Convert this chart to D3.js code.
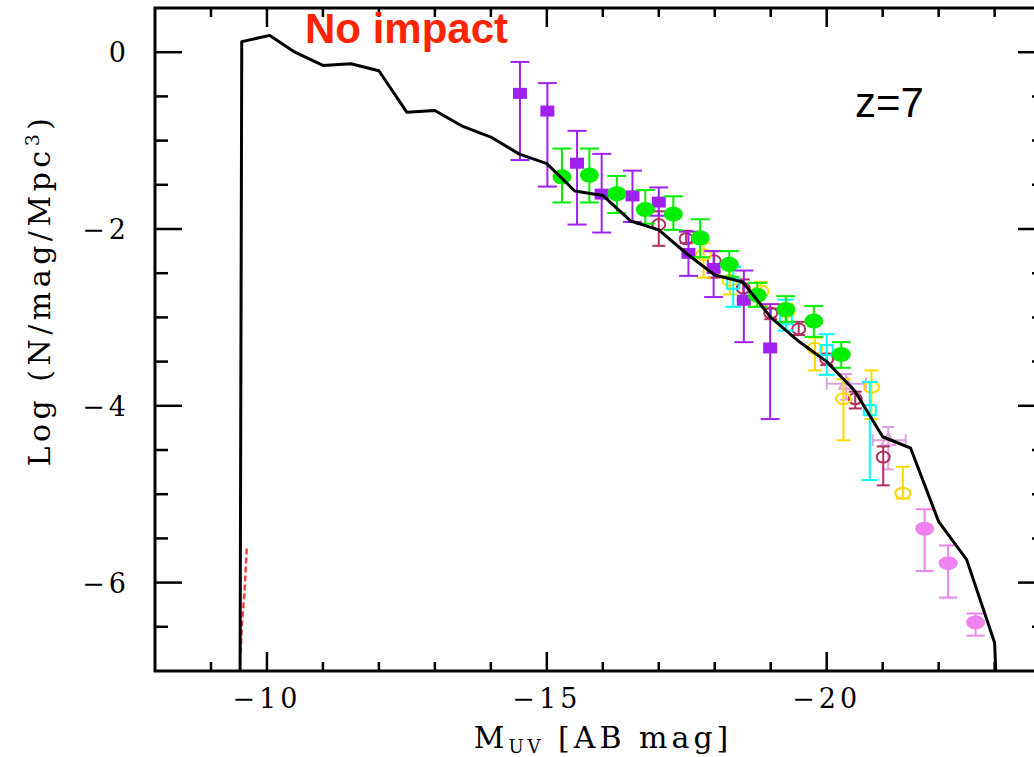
<!DOCTYPE html>
<html>
<head>
<meta charset="utf-8">
<script src="https://cdn.jsdelivr.net/npm/d3@7"></script>
<style>
  body { margin: 0; background: #fff; }
  .tick-label { font-family: "DejaVu Serif", serif; font-size: 27px; letter-spacing: 4px; }
</style>
</head>
<body>
<div id="chart"></div>
<script>
/**
 * CONSTANTS AND GLOBALS
 * */
const width = 1034,
  height = 757,
  frame = { left: 155, right: 1045, top: 8, bottom: 671 };

// model curve (black line)
const modelMag = [-9.52, -9.55, -10.05, -10.5, -11, -11.5, -12, -12.5, -13, -13.5, -14, -14.5, -15, -15.5, -16, -16.5, -17, -17.5, -18, -18.5, -19, -19.5, -20, -20.5, -21, -21.5, -22, -22.5, -23, -23.02];
const modelPhi = [-7, 0.12, 0.19, 0.0, -0.15, -0.13, -0.21, -0.68, -0.66, -0.84, -0.96, -1.15, -1.26, -1.57, -1.62, -1.91, -2.01, -2.28, -2.52, -2.6, -3.0, -3.27, -3.5, -3.83, -4.35, -4.48, -5.31, -5.74, -6.68, -7];

// "no impact" red scribble near the faint end
const noImpactMag = [-9.53, -9.55, -9.6, -9.64];
const noImpactPhi = [-6.8, -6.5, -6.1, -5.6];

// observations: magnitude, log phi, upper, lower
const purpleMag = [-14.52, -15.01, -15.54, -15.98, -16.53, -17.0, -17.53, -17.98, -18.52, -18.99];
const purplePhi = [-0.46, -0.66, -1.25, -1.60, -1.62, -1.69, -2.27, -2.44, -2.80, -3.34];
const purpleHi = [-0.11, -0.35, -0.89, -1.15, -1.34, -1.53, -2.03, -2.25, -2.47, -2.85];
const purpleLo = [-1.22, -1.52, -1.95, -2.04, -1.92, -1.85, -2.53, -2.77, -3.28, -4.15];

const greenMag = [-15.27, -15.76, -16.25, -16.76, -17.26, -17.74, -18.26, -18.76, -19.27, -19.77, -20.26];
const greenPhi = [-1.41, -1.39, -1.60, -1.78, -1.83, -2.10, -2.40, -2.75, -2.91, -3.04, -3.42];
const greenHi = [-1.09, -1.09, -1.40, -1.56, -1.63, -1.89, -2.25, -2.61, -2.76, -2.87, -3.28];
const greenLo = [-1.70, -1.70, -1.82, -1.94, -2.01, -2.32, -2.54, -2.88, -3.05, -3.22, -3.57];

const maroonMag = [-17.0, -17.49, -17.99, -18.51, -19.0, -19.5, -20.0, -20.51, -21.01];
const maroonPhi = [-1.95, -2.11, -2.36, -2.67, -2.95, -3.13, -3.47, -3.92, -4.58];
const maroonHi = [-1.80, -2.02, -2.25, -2.57, -2.90, -3.05, -3.41, -3.84, -4.46];
const maroonLo = [-2.19, -2.16, -2.55, -2.80, -3.02, -3.20, -3.54, -4.03, -4.90];

const goldMag = [-17.8, -18.27, -18.83, -19.29, -19.79, -20.3, -20.8, -21.36];
const goldPhi = [-2.29, -2.58, -2.70, -2.94, -3.35, -3.92, -3.79, -4.99];
const goldHi = [-2.16, -2.44, -2.60, -2.85, -3.23, -3.70, -3.60, -4.69];
const goldLo = [-2.55, -2.74, -2.87, -3.05, -3.60, -4.39, -4.15, -5.05];

const cyanMag = [-18.33, -19.27, -20.0, -20.77];
const cyanPhi = [-2.62, -3.02, -3.37, -4.05];
const cyanHi = [-2.43, -2.80, -3.19, -3.73];
const cyanLo = [-2.88, -3.15, -3.65, -4.84];

const violetMag = [-21.75, -22.17, -22.66];
const violetPhi = [-5.39, -5.78, -6.45];
const violetHi = [-5.17, -5.58, -6.35];
const violetLo = [-5.87, -6.17, -6.60];

const plumMag = [-20.35, -21.1];
const plumPhi = [-3.75, -4.39];
const plumHi = [-3.64, -4.24];
const plumLo = [-3.93, -4.72];
const plumMagLeft = [-20.0, -20.82];
const plumMagRight = [-20.7, -21.41];

const xTicks = [-10, -15, -20];
const yTicks = [0, -2, -4, -6];

/**
 * SCALES
 * */
const xScale = d3.scaleLinear().domain([-8, -23.9]).range([frame.left, frame.right]);
const yScale = d3.scaleLinear().domain([-7, 0.5]).range([frame.bottom, frame.top]);

const svg = d3.select("#chart")
  .append("svg")
  .attr("width", width)
  .attr("height", height);

// frame
svg.append("rect")
  .attr("x", frame.left)
  .attr("y", frame.top)
  .attr("width", frame.right - frame.left)
  .attr("height", frame.bottom - frame.top)
  .attr("fill", "none")
  .attr("stroke", "#000")
  .attr("stroke-width", 3);

// ticks on all four sides
const xMinor = d3.range(-9, -24, -1);
const yMinor = d3.range(0.5, -7, -0.5).filter(d => d > -7 && d < 0.5);
const ticks = svg.append("g").attr("stroke", "#000").attr("stroke-width", 2.5);

ticks.selectAll("line.xb").data(xMinor).join("line")
  .attr("x1", d => xScale(d)).attr("x2", d => xScale(d))
  .attr("y1", frame.bottom).attr("y2", d => frame.bottom - (d % 5 === 0 ? 19 : 9));
ticks.selectAll("line.xt").data(xMinor).join("line")
  .attr("x1", d => xScale(d)).attr("x2", d => xScale(d))
  .attr("y1", frame.top).attr("y2", d => frame.top + (d % 5 === 0 ? 19 : 9));
ticks.selectAll("line.yl").data(yMinor).join("line")
  .attr("y1", d => yScale(d)).attr("y2", d => yScale(d))
  .attr("x1", frame.left).attr("x2", d => frame.left + (d % 2 === 0 ? 27 : 13));
ticks.selectAll("line.yr").data(yMinor).join("line")
  .attr("y1", d => yScale(d)).attr("y2", d => yScale(d))
  .attr("x1", frame.right).attr("x2", d => frame.right - (d % 2 === 0 ? 27 : 13));

// tick labels
svg.selectAll("text.xlab").data(xTicks).join("text")
  .attr("class", "tick-label")
  .attr("x", d => xScale(d))
  .attr("y", 708)
  .attr("text-anchor", "middle")
  .text(d => "\u2212" + Math.abs(d));

svg.selectAll("text.ylab").data(yTicks).join("text")
  .attr("class", "tick-label")
  .attr("x", 130)
  .attr("y", d => yScale(d) + 10)
  .attr("text-anchor", "end")
  .text(d => d === 0 ? "0" : "\u2212" + Math.abs(d));

// axis titles
const xTitle = svg.append("text")
  .attr("x", 603).attr("y", 748)
  .attr("text-anchor", "middle")
  .attr("font-family", "DejaVu Serif, serif")
  .attr("font-size", 30)
  .attr("letter-spacing", 4);
xTitle.append("tspan").text("M");
xTitle.append("tspan").attr("font-size", 18).attr("dy", 5).text("UV");
xTitle.append("tspan").attr("dy", -5).text(" [AB mag]");

const yTitle = svg.append("text")
  .attr("transform", "translate(50,290) rotate(-90)")
  .attr("text-anchor", "middle")
  .attr("font-family", "DejaVu Serif, serif")
  .attr("font-size", 30)
  .attr("letter-spacing", 4.5);
yTitle.append("tspan").text("Log (N/mag/Mpc");
yTitle.append("tspan").attr("font-size", 19).attr("dy", -11).text("3");
yTitle.append("tspan").attr("dy", 11).text(")");

// annotations
svg.append("text")
  .attr("x", 305).attr("y", 43)
  .attr("font-family", "Liberation Sans, Arial, sans-serif")
  .attr("font-weight", "bold")
  .attr("font-size", 42)
  .attr("fill", "#ff2400")
  .text("No impact");

svg.append("text")
  .attr("x", 855).attr("y", 117)
  .attr("font-family", "Liberation Sans, Arial, sans-serif")
  .attr("font-size", 42)
  .attr("fill", "#000")
  .text("z=7");

/**
 * OBSERVATIONS
 * */
function series(mag, phi, hi, lo) {
  return mag.map((m, i) => ({ m: m, v: phi[i], hi: hi[i], lo: lo[i] }));
}

function errorBars(data, color, cap, sw) {
  const g = svg.append("g").attr("stroke", color).attr("stroke-width", sw || 2).attr("fill", "none");
  g.selectAll("line.v").data(data).join("line")
    .attr("x1", d => xScale(d.m)).attr("x2", d => xScale(d.m))
    .attr("y1", d => yScale(d.hi)).attr("y2", d => yScale(d.lo));
  g.selectAll("line.t").data(data).join("line")
    .attr("x1", d => xScale(d.m) - cap / 2).attr("x2", d => xScale(d.m) + cap / 2)
    .attr("y1", d => yScale(d.hi)).attr("y2", d => yScale(d.hi));
  g.selectAll("line.b").data(data).join("line")
    .attr("x1", d => xScale(d.m) - cap / 2).attr("x2", d => xScale(d.m) + cap / 2)
    .attr("y1", d => yScale(d.lo)).attr("y2", d => yScale(d.lo));
  return g;
}

const purple = series(purpleMag, purplePhi, purpleHi, purpleLo);
const green = series(greenMag, greenPhi, greenHi, greenLo);
const maroon = series(maroonMag, maroonPhi, maroonHi, maroonLo);
const gold = series(goldMag, goldPhi, goldHi, goldLo);
const cyan = series(cyanMag, cyanPhi, cyanHi, cyanLo);
const violet = series(violetMag, violetPhi, violetHi, violetLo);
const plum = plumMag.map((m, i) => ({ m: m, v: plumPhi[i], hi: plumHi[i], lo: plumLo[i], l: plumMagLeft[i], r: plumMagRight[i] }));

// plum: horizontal + vertical errors, open triangles
const plumG = errorBars(plum, "#dda0dd", 12, 2);
plumG.selectAll("line.h").data(plum).join("line")
  .attr("x1", d => xScale(d.l)).attr("x2", d => xScale(d.r))
  .attr("y1", d => yScale(d.v)).attr("y2", d => yScale(d.v));
plumG.selectAll("line.hl").data(plum).join("line")
  .attr("x1", d => xScale(d.l)).attr("x2", d => xScale(d.l))
  .attr("y1", d => yScale(d.v) - 6).attr("y2", d => yScale(d.v) + 6);
plumG.selectAll("line.hr").data(plum).join("line")
  .attr("x1", d => xScale(d.r)).attr("x2", d => xScale(d.r))
  .attr("y1", d => yScale(d.v) - 6).attr("y2", d => yScale(d.v) + 6);
plumG.selectAll("path.tri").data(plum).join("path")
  .attr("d", d => {
    const x = xScale(d.m), y = yScale(d.v);
    return `M${x - 7},${y + 5}L${x + 7},${y + 5}L${x},${y - 7}Z`;
  });

// maroon open circles
errorBars(maroon, "#b03060", 13, 2)
  .selectAll("ellipse").data(maroon).join("ellipse")
  .attr("cx", d => xScale(d.m)).attr("cy", d => yScale(d.v))
  .attr("rx", 6.5).attr("ry", 5.5);

// gold open circles
errorBars(gold, "#ffd700", 14, 2)
  .selectAll("ellipse").data(gold).join("ellipse")
  .attr("cx", d => xScale(d.m)).attr("cy", d => yScale(d.v))
  .attr("rx", 7.5).attr("ry", 5.5);

// cyan open squares
errorBars(cyan, "#00ffff", 16, 2)
  .selectAll("rect").data(cyan).join("rect")
  .attr("x", d => xScale(d.m) - 6).attr("y", d => yScale(d.v) - 5)
  .attr("width", 12).attr("height", 10);

// purple filled squares
errorBars(purple, "#a020f0", 19, 2)
  .selectAll("rect").data(purple).join("rect")
  .attr("x", d => xScale(d.m) - 7).attr("y", d => yScale(d.v) - 5)
  .attr("width", 14).attr("height", 11)
  .attr("fill", "#a020f0").attr("stroke", "none");

// green filled ellipses
errorBars(green, "#00ee00", 19, 2)
  .selectAll("ellipse").data(green).join("ellipse")
  .attr("cx", d => xScale(d.m)).attr("cy", d => yScale(d.v))
  .attr("rx", 9.5).attr("ry", 7.5)
  .attr("fill", "#00ee00").attr("stroke", "none");

// violet filled ellipses
errorBars(violet, "#ee82ee", 18, 2)
  .selectAll("ellipse").data(violet).join("ellipse")
  .attr("cx", d => xScale(d.m)).attr("cy", d => yScale(d.v))
  .attr("rx", 9.5).attr("ry", 7)
  .attr("fill", "#ee82ee").attr("stroke", "none");

/**
 * MODEL LINES
 * */
const lineFunc = d3.line()
  .x(d => xScale(d[0]))
  .y(d => yScale(d[1]));

svg.append("path")
  .datum(noImpactMag.map((m, i) => [m, noImpactPhi[i]]))
  .attr("d", lineFunc)
  .attr("fill", "none")
  .attr("stroke", "#ee4444")
  .attr("stroke-width", 2.5)
  .attr("stroke-dasharray", "6,3");

svg.append("path")
  .datum(modelMag.map((m, i) => [m, modelPhi[i]]))
  .attr("d", lineFunc)
  .attr("fill", "none")
  .attr("stroke", "#000")
  .attr("stroke-width", 3)
  .attr("stroke-linejoin", "round");
</script>
</body>
</html>
